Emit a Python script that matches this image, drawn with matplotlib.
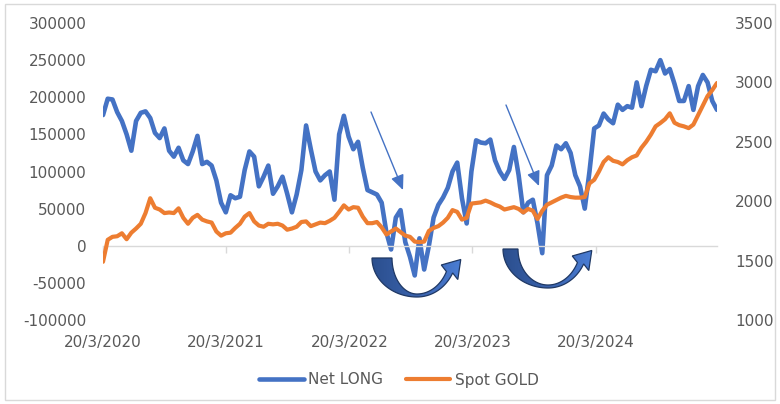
import numpy as np
import pandas as pd
import matplotlib
matplotlib.use('Agg')
import matplotlib.pyplot as plt
from matplotlib.patches import Polygon, Rectangle
from matplotlib.colors import LinearSegmentedColormap

# ---------------- data ----------------
start_date = '2020-03-20'
series_names = ['Net LONG', 'Spot GOLD']
net_long_k = [176, 198, 197, 180, 168, 150, 128, 168, 179, 181,
              172, 152, 145, 158, 128, 120, 132, 115, 110, 127,
              148, 110, 113, 108, 88, 58, 45, 68, 64, 66,
              102, 127, 120, 80, 93, 108, 70, 80, 93, 70,
              45, 69, 102, 162, 130, 100, 88, 95, 100, 62,
              150, 175, 147, 130, 140, 105, 75, 72, 69, 58,
              18, -5, 38, 48, 5, -15, -40, 10, -32, 0,
              38, 55, 65, 78, 100, 112, 64, 30, 100, 142,
              139, 138, 143, 115, 100, 90, 102, 133, 95, 45,
              58, 62, 30, -10, 95, 108, 135, 130, 138, 125,
              95, 80, 50, 100, 158, 162, 178, 170, 165, 190,
              183, 188, 186, 220, 188, 215, 237, 235, 250, 232,
              238, 218, 195, 195, 215, 183, 215, 230, 220, 195,
              183]
net_long = [v * 1000 for v in net_long_k]
spot_gold = [1490, 1675, 1700, 1705, 1730, 1680, 1735, 1770, 1810, 1900,
             2025, 1945, 1930, 1900, 1905, 1900, 1940, 1860, 1810, 1860,
             1885, 1845, 1830, 1820, 1745, 1710, 1730, 1735, 1775, 1810,
             1870, 1900, 1830, 1795, 1785, 1810, 1805, 1810, 1795, 1760,
             1770, 1785, 1825, 1830, 1790, 1805, 1820, 1815, 1835, 1860,
             1910, 1965, 1930, 1950, 1945, 1870, 1815, 1815, 1825, 1780,
             1720, 1745, 1770, 1740, 1710, 1700, 1660, 1655, 1660, 1750,
             1775, 1790, 1820, 1860, 1925, 1910, 1845, 1860, 1980, 1985,
             1990, 2005, 1990, 1970, 1955, 1930, 1940, 1950, 1935, 1905,
             1935, 1920, 1850, 1920, 1970, 1990, 2010, 2030, 2045, 2035,
             2030, 2030, 2035, 2150, 2180, 2250, 2330, 2370, 2340, 2330,
             2310, 2345, 2370, 2385, 2450, 2500, 2560, 2630, 2658, 2690,
             2740, 2660, 2640, 2630, 2615, 2645, 2725, 2805, 2885, 2935,
             2995]
tick_dates = ['2020-03-20', '2021-03-20', '2022-03-20', '2023-03-20', '2024-03-20']
tick_labels = ['20/3/2020', '20/3/2021', '20/3/2022', '20/3/2023', '20/3/2024']
left_ticks = [-100000, -50000, 0, 50000, 100000, 150000, 200000, 250000, 300000]
right_ticks = [1000, 1500, 2000, 2500, 3000, 3500]

dates = pd.date_range(start_date, periods=len(net_long), freq='14D')

# ---------------- style ----------------
W, H = 780, 404
blue = '#4472C4'
orange = '#ED7D31'
txt = '#595959'
grid = '#D9D9D9'
fs = 11
plt.rcParams['font.family'] = ['DejaVu Sans']

fig = plt.figure(figsize=(W / 100, H / 100), dpi=100)
ax = fig.add_axes([103 / W, 1 - 320 / H, 614 / W, 297 / H])
ax2 = ax.twinx()

l1, = ax.plot(dates, net_long, color=blue, lw=3.3, solid_joinstyle='round',
              solid_capstyle='round', label=series_names[0])
l2, = ax2.plot(dates, spot_gold, color=orange, lw=3.0, solid_joinstyle='round',
               solid_capstyle='round', label=series_names[1])

ax.set_xlim(dates[0], dates[-1])
ax.set_ylim(left_ticks[0], left_ticks[-1])
ax2.set_ylim(right_ticks[0], right_ticks[-1])

ax.set_yticks(left_ticks)
ax.set_yticklabels([str(v) for v in left_ticks])
ax2.set_yticks(right_ticks)
ax2.set_yticklabels([str(v) for v in right_ticks])
ax.tick_params(axis='y', length=0, pad=12, labelsize=fs, labelcolor=txt)
ax2.tick_params(axis='y', length=0, pad=13, labelsize=fs, labelcolor=txt)

for s in ['left', 'right', 'top']:
    ax.spines[s].set_visible(False)
for s in ax2.spines.values():
    s.set_visible(False)
ax.spines['bottom'].set_position(('data', 0))
ax.spines['bottom'].set_color(grid)
ax.spines['bottom'].set_linewidth(1)
ax.set_xticks(pd.to_datetime(tick_dates))
ax.tick_params(axis='x', length=5, width=1, color=grid, direction='out',
               labelbottom=False)
for d, lab in zip(pd.to_datetime(tick_dates), tick_labels):
    ax.text(d, -23 / 297, lab, transform=ax.get_xaxis_transform(), ha='center',
            va='center', fontsize=fs, color=txt)

leg = fig.legend([l1, l2], series_names, loc='center',
                 bbox_to_anchor=(399 / W, 1 - 380 / H), ncol=2, frameon=False,
                 handlelength=2.9, columnspacing=1.5, handletextpad=0.3,
                 fontsize=fs, labelcolor=txt)

# ---------------- annotations (overlay in pixel coords) ----------------
ov = fig.add_axes([0, 0, 1, 1])
ov.set_zorder(10)
ov.patch.set_visible(False)
ov.axis('off')

ov.add_patch(Rectangle((5, 4), 770, 396, fill=False, ec=grid, lw=1))

for (x0, y0), (x1, y1) in [((371, 112), (403, 190)), ((506, 105), (539, 186))]:
    ov.annotate('', xy=(x1, y1), xytext=(x0, y0),
                arrowprops=dict(arrowstyle='-|>,head_length=0.9,head_width=0.4',
                                color=blue, lw=1, shrinkA=0, shrinkB=0))

cmap = LinearSegmentedColormap.from_list('g', ['#2B4F8E', '#3A62AC', '#4A7DD4'])


def curved_arrow(ox, oy, band=18):
    xc, yb = 45, 39
    t = np.linspace(np.pi, np.pi / 2, 40)
    outer_left = np.c_[xc + xc * np.cos(t), yb * np.sin(t)]
    yc2 = -5
    rxo, ryo = 40, yb - yc2
    te = 0.47
    t2 = np.linspace(np.pi / 2, te, 30)
    outer_right = np.c_[xc + rxo * np.cos(t2), yc2 + ryo * np.sin(t2)]
    rxi, ryi = 33, ryo - 3
    t3 = np.linspace(te, np.pi / 2, 30)
    inner_right = np.c_[xc + rxi * np.cos(t3), yc2 + ryi * np.sin(t3)]
    rxl = xc - band
    t4 = np.linspace(np.pi / 2, np.pi, 40)
    inner_left = np.c_[xc + rxl * np.cos(t4), (yb - 3) * np.sin(t4)]
    p_out = outer_right[-1]
    p_in = inner_right[0]
    mid = (p_out + p_in) / 2
    d = np.array([0.66, -0.75])
    d = d / np.linalg.norm(d)
    perp = np.array([-d[1], d[0]])
    tip = mid + 17 * d
    c_out = mid + 11 * perp
    c_in = mid - 11 * perp
    pts = np.vstack([outer_left, outer_right, [c_out], [tip], [c_in],
                     inner_right, inner_left])
    pts = pts + np.array([ox, oy])
    poly = Polygon(pts, closed=True, fc='none', ec='#1F3864', lw=0.9, zorder=3)
    ov.add_patch(poly)
    x0, x1 = pts[:, 0].min(), pts[:, 0].max()
    y0, y1 = pts[:, 1].min(), pts[:, 1].max()
    grad = np.linspace(0, 1, 100)[None, :]
    im = ov.imshow(grad, extent=(x0, x1, y1, y0), aspect='auto', cmap=cmap,
                   zorder=2, interpolation='bilinear')
    clip = Polygon(pts, closed=True, transform=ov.transData)
    im.set_clip_path(clip)


curved_arrow(372, 258, band=20)
curved_arrow(503, 249, band=15)

ov.set_xlim(0, W)
ov.set_ylim(H, 0)

fig.savefig('out.png', dpi=100)
